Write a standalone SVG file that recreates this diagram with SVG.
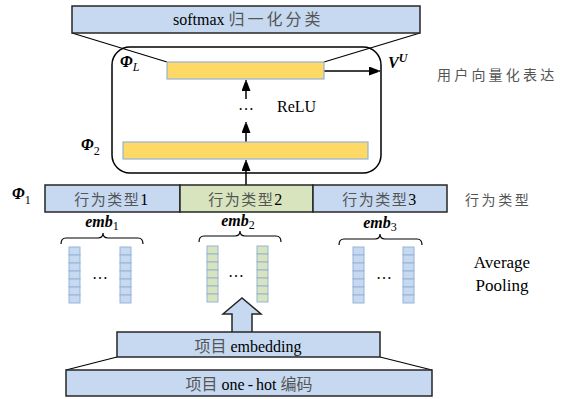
<svg xmlns="http://www.w3.org/2000/svg" width="570" height="399" viewBox="0 0 570 399">
<defs>
<style>
.box{fill:#c6d9f1;stroke:#262626;stroke-width:1.5}
.boxg{fill:#d7e4bd;stroke:#262626;stroke-width:1.5}
.bar{fill:#ffd966;stroke:#95b3d7;stroke-width:1.2}
.ln{fill:none;stroke:#000;stroke-width:1.5}
.cb{fill:#c6d9f1;stroke:#95b3d7;stroke-width:1}
.cg{fill:#d7e4bd;stroke:#95b3d7;stroke-width:1}
.ser{font-family:"Liberation Serif","Times New Roman",serif;fill:#000}
.cjk{font-family:"Liberation Serif","Noto Sans CJK SC",serif;fill:#555}
.phi{font-family:"Liberation Serif",serif;font-weight:bold;font-style:italic;font-size:16px;fill:#000}
.sub{font-family:"Liberation Serif",serif;font-weight:normal;font-style:normal;font-size:12px;fill:#000}
.subi{font-family:"Liberation Serif",serif;font-weight:normal;font-style:italic;font-size:12px;fill:#000}
.dots{font-family:"Liberation Serif",serif;font-size:16px;fill:#000}
</style>
<marker id="ah" markerWidth="9" markerHeight="12" refX="11" refY="4.5" orient="auto" markerUnits="userSpaceOnUse">
<path d="M0,0 L12,4.5 L0,9 Z" fill="#000"/>
</marker>
<g id="col-b">
<rect class="cb" x="0" y="0" width="11" height="8"/><rect class="cb" x="0" y="8" width="11" height="8"/><rect class="cb" x="0" y="16" width="11" height="8"/><rect class="cb" x="0" y="24" width="11" height="8"/><rect class="cb" x="0" y="32" width="11" height="8"/><rect class="cb" x="0" y="40" width="11" height="8"/><rect class="cb" x="0" y="48" width="11" height="8"/>
</g>
<g id="col-g">
<rect class="cg" x="0" y="0" width="11" height="8"/><rect class="cg" x="0" y="8" width="11" height="8"/><rect class="cg" x="0" y="16" width="11" height="8"/><rect class="cg" x="0" y="24" width="11" height="8"/><rect class="cg" x="0" y="32" width="11" height="8"/><rect class="cg" x="0" y="40" width="11" height="8"/><rect class="cg" x="0" y="48" width="11" height="8"/>
</g>
</defs>
<rect width="570" height="399" fill="#fff"/>

<g id="connectors">
<line class="ln" x1="72" y1="33" x2="167" y2="62" style="stroke-width:1.2"/>
<line class="ln" x1="420" y1="33" x2="324" y2="62" style="stroke-width:1.2"/>
<line class="ln" x1="324" y1="71" x2="380" y2="71" marker-end="url(#ah)"/>
<line class="ln" x1="246" y1="99" x2="246" y2="80" marker-end="url(#ah)"/>
<line class="ln" x1="246" y1="142" x2="246" y2="122" marker-end="url(#ah)"/>
<line class="ln" x1="246" y1="185" x2="246" y2="160" marker-end="url(#ah)"/>
<line class="ln" x1="117" y1="357" x2="66" y2="370" style="stroke-width:1.2"/>
<line class="ln" x1="380" y1="357" x2="432" y2="370" style="stroke-width:1.2"/>
<path d="M232,332 L232,314 L223,314 L242,298 L261,314 L252,314 L252,332" fill="#c6d9f1" stroke="#262626" stroke-width="1.5"/>
</g>

<g id="softmax">
<rect class="box" x="72" y="6" width="348" height="27"/>
<text class="ser" x="173" y="25" font-size="16">softmax <tspan class="cjk" font-size="16" letter-spacing="3">归一化分类</tspan></text>
</g>

<g id="mlp">
<rect x="112" y="47" width="269" height="126" rx="18" fill="none" stroke="#000" stroke-width="1.5"/>
<rect id="phiL-bar" class="bar" x="167" y="62" width="157" height="17"/>
<rect id="phi2-bar" class="bar" x="123" y="142" width="245" height="17"/>
<text class="dots" x="246" y="110" text-anchor="middle">…</text>
<text class="ser" x="277" y="112" font-size="16">ReLU</text>
<text class="phi" x="120" y="67">Φ<tspan class="subi" dy="4">L</tspan></text>
<text class="phi" x="81" y="150">Φ<tspan class="sub" dy="5">2</tspan></text>
<text class="phi" x="388" y="68">V<tspan font-size="12" dy="-6">U</tspan></text>
</g>

<g id="user-label">
<text class="cjk" x="437" y="80" font-size="14" letter-spacing="3.2">用户向量化表达</text>
</g>

<g id="types">
<text class="phi" x="12" y="199">Φ<tspan class="sub" dy="5">1</tspan></text>
<rect class="box" x="45" y="185" width="135" height="27"/>
<rect class="boxg" x="180" y="185" width="133" height="27"/>
<rect class="box" x="313" y="185" width="134" height="27"/>
<text class="cjk" x="112" y="205" font-size="15" letter-spacing="1.5" text-anchor="middle">行为类型<tspan class="ser" font-size="16">1</tspan></text>
<text class="cjk" x="246" y="205" font-size="15" letter-spacing="1.5" text-anchor="middle">行为类型<tspan class="ser" font-size="16">2</tspan></text>
<text class="cjk" x="380" y="205" font-size="15" letter-spacing="1.5" text-anchor="middle">行为类型<tspan class="ser" font-size="16">3</tspan></text>
<text class="cjk" x="465" y="205" font-size="14" letter-spacing="2.6">行为类型</text>
</g>

<g id="emb1">
<text class="phi" x="102" y="227" font-size="15" text-anchor="middle">emb<tspan class="sub" dy="3">1</tspan></text>
<path class="ln" style="stroke-width:1.2" d="M61,244 Q61,238 66,238 L98,238 Q103,238 103,233 Q103,238 108,238 L138,238 Q143,238 143,244"/>
<use href="#col-b" x="69" y="247"/>
<use href="#col-b" x="120" y="247"/>
<text class="dots" x="100" y="279" text-anchor="middle">…</text>
</g>

<g id="emb2">
<text class="phi" x="238" y="226" font-size="15" text-anchor="middle">emb<tspan class="sub" dy="3">2</tspan></text>
<path class="ln" style="stroke-width:1.2" d="M199,242 Q199,236 204,236 L235,236 Q240,236 240,231 Q240,236 245,236 L276,236 Q281,236 281,242"/>
<use href="#col-g" x="207" y="246"/>
<use href="#col-g" x="257" y="246"/>
<text class="dots" x="236" y="277" text-anchor="middle">…</text>
</g>

<g id="emb3">
<text class="phi" x="380" y="228" font-size="15" text-anchor="middle">emb<tspan class="sub" dy="3">3</tspan></text>
<path class="ln" style="stroke-width:1.2" d="M339,245 Q339,239 344,239 L375,239 Q380,239 380,234 Q380,239 385,239 L417,239 Q422,239 422,245"/>
<use href="#col-b" x="353" y="247"/>
<use href="#col-b" x="403" y="247"/>
<text class="dots" x="384" y="279" text-anchor="middle">…</text>
</g>

<g id="pooling-label">
<text class="ser" x="502" y="268" font-size="17" text-anchor="middle">Average</text>
<text class="ser" x="502" y="291" font-size="17" text-anchor="middle">Pooling</text>
</g>

<g id="item-embedding">
<rect class="box" x="117" y="332" width="263" height="25"/>
<text class="cjk" x="248" y="352" font-size="16" text-anchor="middle">项目 <tspan class="ser">embedding</tspan></text>
</g>

<g id="item-onehot">
<rect class="box" x="66" y="370" width="366" height="26"/>
<text class="cjk" x="249" y="390" font-size="16" text-anchor="middle">项目 <tspan class="ser">one<tspan dx="3">-</tspan><tspan dx="3">hot</tspan></tspan> 编码</text>
</g>
</svg>
